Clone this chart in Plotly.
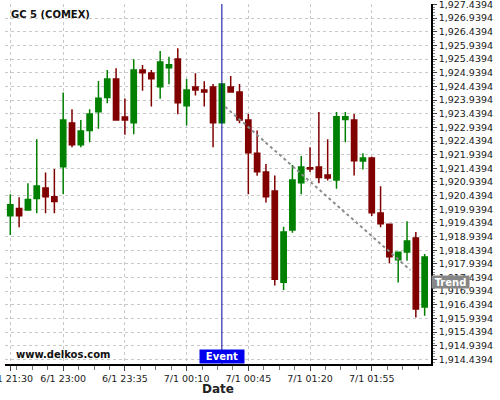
import plotly.graph_objects as go

times = ["21:30", "21:35", "21:40", "21:45", "21:50", "21:55",
         "23:00", "23:05", "23:10", "23:15", "23:20", "23:25", "23:30", "23:35",
         "23:40", "23:45", "23:50", "23:55", "00:00", "00:05", "00:10", "00:15",
         "00:20", "00:25", "00:30", "00:35", "00:40", "00:45", "00:50", "00:55",
         "01:00", "01:05", "01:10", "01:15", "01:20", "01:25", "01:30", "01:35",
         "01:40", "01:45", "01:50", "01:55", "02:00", "02:05", "02:10", "02:15",
         "02:20", "02:25"]

opens = [1919.70, 1919.97, 1919.91, 1920.33, 1920.72, 1920.40, 1921.50, 1923.10,
         1922.30, 1922.82, 1923.51, 1924.03, 1924.71, 1923.32, 1923.11, 1925.04,
         1924.93, 1924.43, 1925.12, 1925.44, 1923.73, 1924.42, 1924.31, 1924.42,
         1923.11, 1924.42, 1924.23, 1923.21, 1921.99, 1921.30, 1920.61, 1917.27,
         1919.18, 1920.91, 1921.46, 1921.49, 1921.19, 1921.01, 1923.23, 1923.21,
         1921.71, 1921.82, 1919.80, 1919.39, 1918.09, 1918.37, 1918.89, 1916.36]
highs = [1920.49, 1920.38, 1920.89, 1922.50, 1921.29, 1921.41, 1924.22, 1923.60,
         1923.21, 1923.60, 1924.64, 1925.04, 1925.10, 1924.00, 1925.43, 1925.22,
         1925.04, 1925.74, 1925.53, 1925.84, 1924.71, 1924.92, 1924.63, 1924.53,
         1924.55, 1924.82, 1924.53, 1923.43, 1922.82, 1921.60, 1921.18, 1919.30,
         1921.56, 1921.89, 1922.21, 1923.50, 1922.50, 1923.50, 1923.50, 1923.43,
         1921.99, 1921.86, 1920.78, 1919.41, 1918.36, 1919.50, 1919.11, 1918.30]
lows = [1919.00, 1919.28, 1919.89, 1919.79, 1919.79, 1919.79, 1920.49, 1922.21,
        1922.21, 1922.39, 1922.89, 1923.82, 1923.18, 1922.67, 1922.69, 1924.28,
        1923.70, 1923.99, 1924.52, 1923.42, 1923.01, 1924.11, 1923.70, 1922.21,
        1923.09, 1924.21, 1923.09, 1920.49, 1921.17, 1920.19, 1917.15, 1916.98,
        1919.08, 1920.49, 1921.30, 1920.89, 1920.99, 1920.69, 1922.39, 1921.18,
        1921.40, 1919.69, 1919.28, 1917.96, 1917.26, 1918.05, 1915.97, 1916.04]
closes = [1920.10, 1919.70, 1920.30, 1920.79, 1920.40, 1920.22, 1923.21, 1922.30,
          1922.81, 1923.43, 1924.01, 1924.71, 1923.21, 1923.21, 1925.04, 1924.94,
          1924.72, 1925.33, 1925.23, 1923.84, 1924.31, 1924.31, 1924.23, 1923.11,
          1924.53, 1924.23, 1923.21, 1922.01, 1921.31, 1920.40, 1917.38, 1919.11,
          1921.01, 1921.49, 1921.41, 1921.10, 1921.08, 1923.33, 1923.33, 1921.72,
          1921.82, 1919.81, 1919.41, 1918.20, 1918.36, 1918.78, 1916.29, 1918.19]

tick_idx = [0, 6, 13, 20, 27, 34, 41]
tick_text = ["6/1 21:30", "6/1 23:00", "6/1 23:35", "7/1 00:10",
             "7/1 00:45", "7/1 01:20", "7/1 01:55"]

event_idx = 24
trend_x = [24.37, 45.37]
trend_y = [1923.695, 1917.714]
trend_label_y = 1917.27

x = list(range(len(times)))

fig = go.Figure()
fig.add_trace(go.Candlestick(
    x=x, open=opens, high=highs, low=lows, close=closes,
    increasing=dict(line=dict(color="#008000", width=1.5), fillcolor="#008000"),
    decreasing=dict(line=dict(color="#800000", width=1.5), fillcolor="#800000"),
    whiskerwidth=0, showlegend=False, hoverinfo="skip",
))
fig.add_trace(go.Scatter(
    x=trend_x, y=trend_y, mode="lines",
    line=dict(color="#8c8c8c", width=2, dash="dot"),
    showlegend=False, hoverinfo="skip",
))
fig.add_shape(type="line", x0=event_idx, x1=event_idx, y0=0, y1=1,
              xref="x", yref="paper", line=dict(color="#00009a", width=1))

grid = dict(showgrid=True, gridcolor="#c8c8c8", gridwidth=1, griddash="3px,3px")
font_tick = dict(family="DejaVu Sans", size=9.5, color="#1a1a1a")

fig.update_layout(
    width=500, height=400,
    margin=dict(l=5, r=69, t=4, b=36, autoexpand=False),
    paper_bgcolor="white", plot_bgcolor="white",
    boxgap=0.15,
    xaxis=dict(
        range=[-0.6, 47.72], rangeslider=dict(visible=False), automargin=False,
        tickmode="array", tickvals=tick_idx, ticktext=tick_text,
        ticklabeloverflow="allow",
        ticks="outside", ticklen=5, tickcolor="#444", tickfont=font_tick,
        showline=True, linecolor="black", linewidth=1.5,
        minor=dict(ticks="outside", ticklen=4, tick0=6, dtick=1.75,
                   tickcolor="#777", showgrid=False),
        zeroline=False, **grid,
    ),
    yaxis=dict(
        side="right", range=[1914.271, 1927.458], automargin=False,
        tick0=1914.4394, dtick=0.5, tickformat=",.4f",
        ticklabeloverflow="allow",
        ticks="outside", ticklen=4, tickcolor="#444", tickfont=font_tick,
        showline=True, linecolor="black", linewidth=1.5,
        minor=dict(ticks="outside", ticklen=2, dtick=0.1, tick0=1914.4394,
                   tickcolor="#888", showgrid=False),
        zeroline=False, **grid,
    ),
    annotations=[
        dict(text="<b>GC 5 (COMEX)</b>", x=0, y=1, xref="paper", yref="paper",
             xanchor="left", yanchor="top", xshift=4, yshift=-3, showarrow=False,
             font=dict(family="DejaVu Sans", size=10, color="#111")),
        dict(text="<b>www.delkos.com</b>", x=0, y=0, xref="paper", yref="paper",
             xanchor="left", yanchor="middle", xshift=9, yshift=10, showarrow=False,
             font=dict(family="DejaVu Sans", size=10, color="#111")),
        dict(text="<b>Date</b>", x=0.5, y=0, xref="paper", yref="paper",
             xanchor="center", yanchor="middle", yshift=-25, showarrow=False,
             font=dict(family="DejaVu Sans", size=12, color="#222")),
        dict(text="<b>Event</b>", x=event_idx, y=0, xref="x", yref="paper",
             xanchor="center", yanchor="bottom", showarrow=False,
             bgcolor="#0000ee", width=44, height=13, borderpad=0,
             font=dict(family="DejaVu Sans", size=10, color="white")),
        dict(text="<b>Trend</b>", x=1, y=trend_label_y, xref="paper", yref="y",
             xanchor="left", yanchor="middle", showarrow=False,
             bgcolor="#868686", width=37, height=12, borderpad=0,
             font=dict(family="DejaVu Sans", size=10, color="white")),
    ],
)

fig.write_html("out.html", config={"displayModeBar": False},
               post_script="document.body.style.margin='0';document.body.style.overflow='hidden';")
